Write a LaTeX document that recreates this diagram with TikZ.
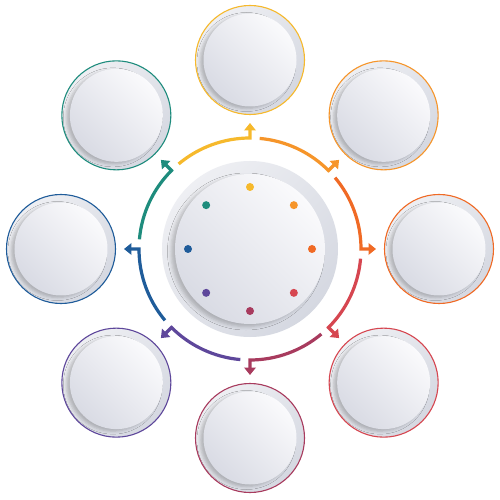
\documentclass[tikz,border=0pt]{standalone}
\usetikzlibrary{arrows.meta,shadows.blur}
\definecolor{cTop}{HTML}{F6B92C}
\definecolor{cUR}{HTML}{F6952A}
\definecolor{cR}{HTML}{F06A25}
\definecolor{cLR}{HTML}{D64650}
\definecolor{cB}{HTML}{A83B5E}
\definecolor{cLL}{HTML}{5E479B}
\definecolor{cL}{HTML}{1F5C9A}
\definecolor{cUL}{HTML}{1E8C7D}
\definecolor{ringLight}{HTML}{EEEFF3}
\definecolor{ringDark}{HTML}{D5D8E1}
\definecolor{discLight}{HTML}{FAFAFC}
\definecolor{discDark}{HTML}{D9DBE4}
\begin{document}
\begin{tikzpicture}[x=1pt,y=1pt,
  ringnode/.style={circle, inner sep=0pt, minimum size=109pt, line width=1.1pt,
    top color=ringLight, bottom color=ringDark, shading angle=45},
  discnode/.style={circle, inner sep=0pt, minimum size=93pt,
    top color=discLight, bottom color=discDark, shading angle=-45,
    blur shadow={shadow xshift=-3.5pt, shadow yshift=-2pt, shadow blur radius=3pt, shadow opacity=22}},
  flow/.style={line width=3.2pt, line join=miter, -{Triangle[length=7.5pt,width=11.5pt]}},
  dotnode/.style={circle, inner sep=0pt, minimum size=8pt}]
\useasboundingbox (-250,-250) rectangle (250,250);
\fill[white] (-250,-250) rectangle (250,250);
\coordinate (C) at (0,1);
% central element
\node[circle, inner sep=0pt, minimum size=176pt, top color=ringLight, bottom color=ringDark, shading angle=45] (cring) at (C) {};
\node[circle, inner sep=0pt, minimum size=150pt, top color=discLight, bottom color=discDark, shading angle=-45,
  blur shadow={shadow xshift=-4pt, shadow yshift=-2.5pt, shadow blur radius=3.5pt, shadow opacity=22}] (cdisc) at (C) {};
% outer elements, dots and arrows
\foreach \a/\c/\n in {90/cTop/t, 45/cUR/ur, 0/cR/r, -45/cLR/lr, -90/cB/b, -135/cLL/ll, 180/cL/l, 135/cUL/ul}{
  \node[ringnode, draw=\c] (o\n) at ([shift={(\a:189)}]C) {};
  \node[discnode] (i\n) at (o\n) {};
  \node[dotnode, fill=\c] (d\n) at ([shift={(\a:62)}]C) {};
  \coordinate (tip\n) at ([shift={(\a:126)}]C);
  \pgfmathsetmacro{\s}{\a+40}
  \draw[flow, draw=\c] ([shift={(\s:111)}]C) arc[start angle=\s, end angle=\a, radius=111] -- (tip\n);
}
\end{tikzpicture}
\end{document}
